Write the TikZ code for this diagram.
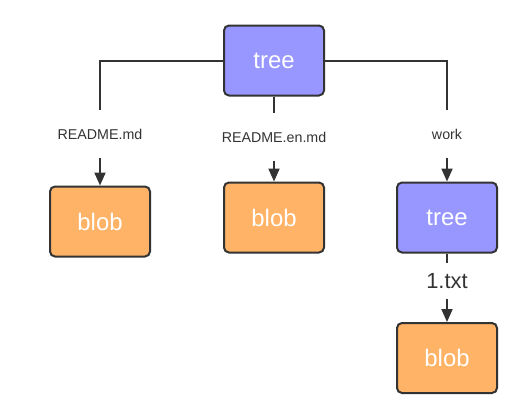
\documentclass[tikz,border=0pt]{standalone}
\usepackage{fontspec}
\setmainfont{Liberation Sans}
\usetikzlibrary{arrows.meta}
\definecolor{treeblue}{HTML}{9896FF}
\definecolor{bloborange}{HTML}{FFB366}
\definecolor{linegray}{HTML}{333333}
\begin{document}
\begin{tikzpicture}[x=1bp, y=-1bp,
  obj/.style={draw=linegray, line width=2bp, rounded corners=5bp,
    minimum width=100bp, minimum height=70bp, text=white,
    font=\fontsize{24}{24}\selectfont},
  treebox/.style={obj, fill=treeblue},
  blobbox/.style={obj, fill=bloborange},
  edgelabel/.style={text=linegray, minimum height=47bp, inner sep=0pt,
    font=\fontsize{14.3}{15}\selectfont},
  link/.style={draw=linegray, line width=2bp},
  arr/.style={link, -{Triangle[length=13bp, width=11bp]}}]
    \useasboundingbox (0,0) rectangle (527,418);
    \node[treebox] (root) at (274,60.5) {tree};
    \node[edgelabel] (lmd) at (100,134) {README.md};
    \node[edgelabel] (lenmd) at (274,137) {README.en.md};
    \node[edgelabel] (lwork) at (447,134) {work};
    \node[blobbox] (blobmd) at (100,221.5) {blob};
    \node[blobbox] (blobenmd) at (274,217.5) {blob};
    \node[treebox] (work) at (447,217.5) {tree};
    \node[edgelabel, minimum height=35bp, font=\fontsize{22}{22}\selectfont]
      (ltxt) at (447,281) {1.txt};
    \node[blobbox] (blobtxt) at (447,358) {blob};
    \draw[link] (root.west) -| (lmd.north);
    \draw[link] (root.south) -- (lenmd.north);
    \draw[link] (root.east) -| (lwork.north);
    \draw[arr] (lmd.south) -- (blobmd.north);
    \draw[arr] (lenmd.south) -- (blobenmd.north);
    \draw[arr] (lwork.south) -- (work.north);
    \draw[link] (work.south) -- (ltxt.north);
    \draw[arr] (ltxt.south) -- (blobtxt.north);
\end{tikzpicture}
\end{document}
